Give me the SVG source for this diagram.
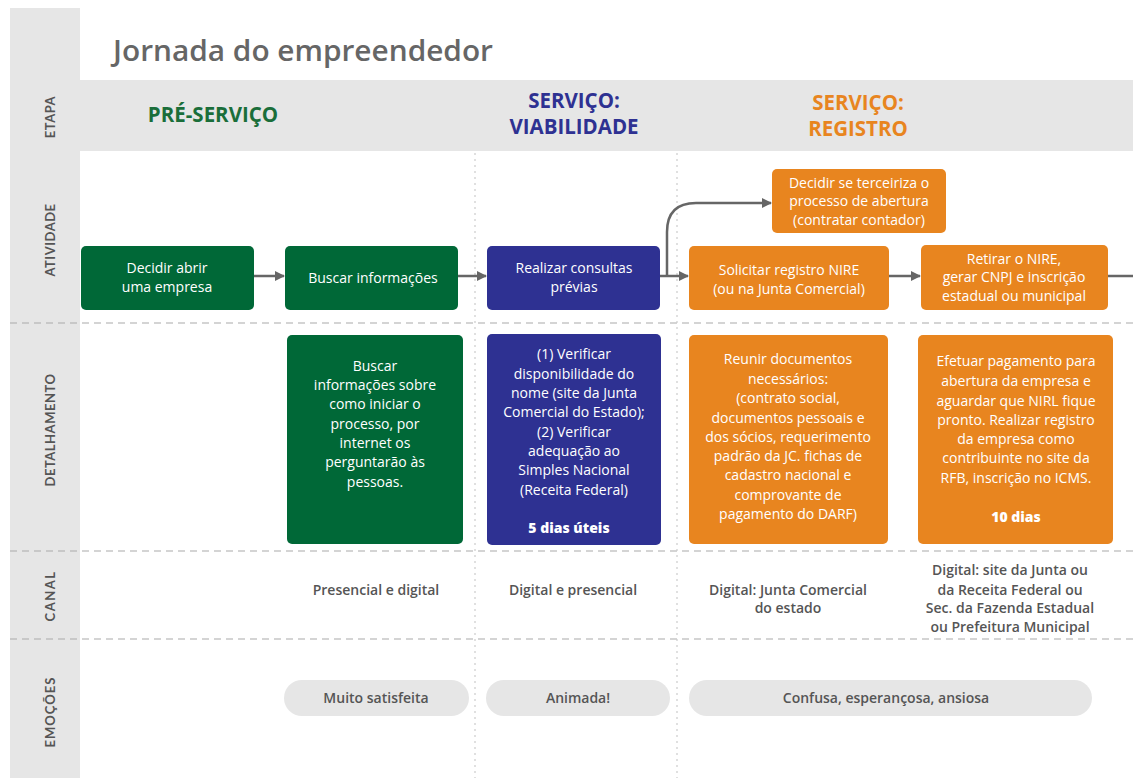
<svg xmlns="http://www.w3.org/2000/svg" width="1133" height="778" viewBox="0 0 1133 778">
<defs>
<marker id="ah" viewBox="0 0 10 10" refX="9" refY="5" markerWidth="4.2" markerHeight="4.8" markerUnits="strokeWidth" orient="auto">
<path d="M0,0 L10,5 L0,10 z" fill="#666"/>
</marker>
<style>
.band{fill:#e6e6e6}
.side{font-family:Lato,"Open Sans",sans-serif;font-size:13px;font-weight:bold;fill:#555;text-anchor:middle;letter-spacing:0.5px}
.hsep{stroke:#aaa;stroke-width:1.2;stroke-dasharray:7 5}
.vsep{stroke:#ccc;stroke-width:1.2;stroke-dasharray:2 4}
.green{fill:#006837}
.blue{fill:#2e3192}
.orange{fill:#e8851f}
.nt{font-family:"Open Sans",Lato,sans-serif;font-size:14px;fill:#fff;text-anchor:middle}
.nb{font-family:"Open Sans",Lato,sans-serif;font-size:14px;font-weight:800;fill:#fff;text-anchor:middle}
.ct{font-family:"Open Sans",Lato,sans-serif;font-size:14px;font-weight:600;fill:#555;text-anchor:middle}
.pill{fill:#e6e6e6}
.conn{stroke:#666;stroke-width:2.5;fill:none}
.stage{font-family:"Open Sans",Lato,sans-serif;font-size:20.5px;font-weight:bold;text-anchor:middle}
</style>
</defs>
<rect width="1133" height="778" fill="#fff"/>
<rect class="band" x="10" y="8" width="70" height="770"/>
<rect class="band" x="80" y="80" width="1053" height="71"/>
<text x="113" y="61" font-family="'Open Sans',Lato,sans-serif" font-size="29" font-weight="600" fill="#666" textLength="380" lengthAdjust="spacingAndGlyphs">Jornada do empreendedor</text>

<g id="sidebar-labels">
<text class="side" transform="translate(50,117) rotate(-90)" dy="4.5">ETAPA</text>
<text class="side" transform="translate(50,240) rotate(-90)" dy="4.5">ATIVIDADE</text>
<text class="side" transform="translate(50,430) rotate(-90)" dy="4.5">DETALHAMENTO</text>
<text class="side" transform="translate(50,596) rotate(-90)" dy="4.5" style="letter-spacing:1.5px">CANAL</text>
<text class="side" transform="translate(50,712) rotate(-90)" dy="4.5" style="letter-spacing:1px">EMOÇÕES</text>
</g>

<g id="separators">
<line class="hsep" x1="10" y1="323" x2="1133" y2="323"/>
<line class="hsep" x1="10" y1="551" x2="1133" y2="551"/>
<line class="hsep" x1="10" y1="639" x2="1133" y2="639"/>
<line class="vsep" x1="475" y1="153" x2="475" y2="778"/>
<line class="vsep" x1="677" y1="153" x2="677" y2="778"/>
</g>

<g id="stages">
<text class="stage" x="213" y="122" fill="#1a6e3a">PRÉ-SERVIÇO</text>
<text class="stage" x="574" y="108" fill="#2e3192">SERVIÇO:</text>
<text class="stage" x="574" y="134" fill="#2e3192">VIABILIDADE</text>
<text class="stage" x="858" y="110" fill="#e8851f">SERVIÇO:</text>
<text class="stage" x="858" y="136" fill="#e8851f">REGISTRO</text>
</g>

<g id="connectors">
<line class="conn" x1="254" y1="276" x2="284" y2="276" marker-end="url(#ah)"/>
<line class="conn" x1="458" y1="276" x2="486" y2="276" marker-end="url(#ah)"/>
<line class="conn" x1="660" y1="276" x2="688" y2="276" marker-end="url(#ah)"/>
<path class="conn" d="M667,276 L667,232 Q667,203 696,203 L771,203" marker-end="url(#ah)"/>
<line class="conn" x1="889" y1="276" x2="920" y2="276" marker-end="url(#ah)"/>
<line class="conn" x1="1108" y1="276" x2="1133" y2="276"/>
</g>

<g id="n-decidir">
<rect class="green" x="81" y="246" width="173" height="64" rx="5"/>
<text class="nt" x="167" y="273">Decidir abrir</text>
<text class="nt" x="167" y="292">uma empresa</text>
</g>
<g id="n-buscar">
<rect class="green" x="285" y="246" width="173" height="64" rx="5"/>
<text class="nt" x="373" y="283">Buscar informações</text>
</g>
<g id="n-realizar">
<rect class="blue" x="487" y="246" width="173" height="64" rx="5"/>
<text class="nt" x="574" y="273">Realizar consultas</text>
<text class="nt" x="574" y="292">prévias</text>
</g>
<g id="n-solicitar">
<rect class="orange" x="689" y="246" width="200" height="64" rx="5"/>
<text class="nt" x="789" y="275">Solicitar registro NIRE</text>
<text class="nt" x="789" y="294">(ou na Junta Comercial)</text>
</g>
<g id="n-retirar">
<rect class="orange" x="921" y="245" width="187" height="65" rx="5"/>
<text class="nt" x="1014" y="264">Retirar o NIRE,</text>
<text class="nt" x="1014" y="282">gerar CNPJ e inscrição</text>
<text class="nt" x="1014" y="301">estadual ou municipal</text>
</g>
<g id="n-terceiriza">
<rect class="orange" x="772" y="169" width="174" height="64" rx="5"/>
<text class="nt" x="859" y="188">Decidir se terceiriza o</text>
<text class="nt" x="859" y="206">processo de abertura</text>
<text class="nt" x="859" y="225">(contratar contador)</text>
</g>

<g id="d-buscar">
<rect class="green" x="287" y="335" width="176" height="209" rx="5"/>
<text class="nt" x="375" y="371">Buscar</text>
<text class="nt" x="375" y="390">informações sobre</text>
<text class="nt" x="375" y="409">como iniciar o</text>
<text class="nt" x="375" y="429">processo, por</text>
<text class="nt" x="375" y="448">internet os</text>
<text class="nt" x="375" y="467">perguntarão às</text>
<text class="nt" x="375" y="487">pessoas.</text>
</g>
<g id="d-verificar">
<rect class="blue" x="487" y="334" width="174" height="211" rx="5"/>
<text class="nt" x="574" y="359">(1) Verificar</text>
<text class="nt" x="574" y="379">disponibilidade do</text>
<text class="nt" x="574" y="398">nome (site da Junta</text>
<text class="nt" x="574" y="417">Comercial do Estado);</text>
<text class="nt" x="574" y="437">(2) Verificar</text>
<text class="nt" x="574" y="456">adequação ao</text>
<text class="nt" x="574" y="475">Simples Nacional</text>
<text class="nt" x="574" y="495">(Receita Federal)</text>
<text class="nb" x="569" y="533">5 dias úteis</text>
</g>
<g id="d-reunir">
<rect class="orange" x="689" y="335" width="199" height="209" rx="5"/>
<text class="nt" x="788" y="364">Reunir documentos</text>
<text class="nt" x="788" y="384">necessários:</text>
<text class="nt" x="788" y="403">(contrato social,</text>
<text class="nt" x="788" y="423">documentos pessoais e</text>
<text class="nt" x="788" y="442">dos sócios, requerimento</text>
<text class="nt" x="788" y="461">padrão da JC. fichas de</text>
<text class="nt" x="788" y="480">cadastro nacional e</text>
<text class="nt" x="788" y="500">comprovante de</text>
<text class="nt" x="788" y="519">pagamento do DARF)</text>
</g>
<g id="d-efetuar">
<rect class="orange" x="918" y="335" width="195" height="209" rx="5"/>
<text class="nt" x="1016" y="366">Efetuar pagamento para</text>
<text class="nt" x="1016" y="386">abertura da empresa e</text>
<text class="nt" x="1016" y="406">aguardar que NIRL fique</text>
<text class="nt" x="1016" y="425">pronto. Realizar registro</text>
<text class="nt" x="1016" y="444">da empresa como</text>
<text class="nt" x="1016" y="463">contribuinte no site da</text>
<text class="nt" x="1016" y="483">RFB, inscrição no ICMS.</text>
<text class="nb" x="1016" y="522">10 dias</text>
</g>

<g id="canal">
<text class="ct" x="376" y="595">Presencial e digital</text>
<text class="ct" x="573" y="595">Digital e presencial</text>
<text class="ct" x="788" y="595">Digital: Junta Comercial</text>
<text class="ct" x="788" y="613">do estado</text>
<text class="ct" x="1010" y="575">Digital: site da Junta ou</text>
<text class="ct" x="1010" y="595">da Receita Federal ou</text>
<text class="ct" x="1010" y="613">Sec. da Fazenda Estadual</text>
<text class="ct" x="1010" y="632">ou Prefeitura Municipal</text>
</g>

<g id="e-satisfeita">
<rect class="pill" x="284" y="680" width="185" height="36" rx="18"/>
<text class="ct" x="376" y="703">Muito satisfeita</text>
</g>
<g id="e-animada">
<rect class="pill" x="486" y="680" width="184" height="36" rx="18"/>
<text class="ct" x="578" y="703">Animada!</text>
</g>
<g id="e-confusa">
<rect class="pill" x="689" y="680" width="403" height="36" rx="18"/>
<text class="ct" x="886" y="703">Confusa, esperançosa, ansiosa</text>
</g>
</svg>
